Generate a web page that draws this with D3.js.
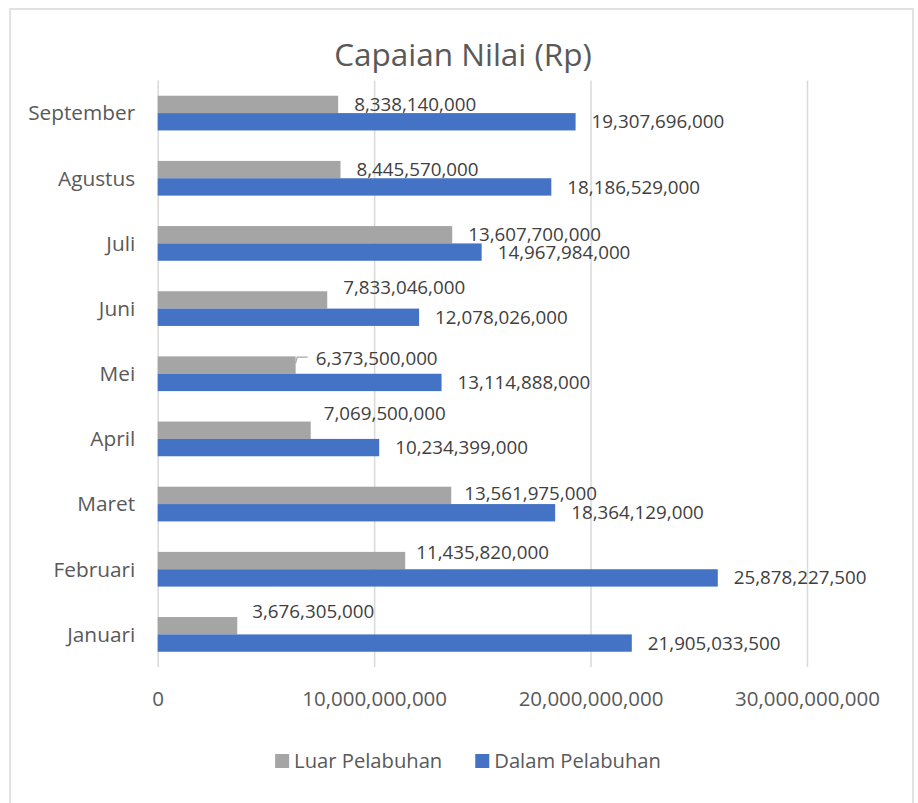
<!DOCTYPE html>
<html>
<head>
<meta charset="utf-8">
<script src="https://cdn.jsdelivr.net/npm/d3@7"></script>
<style>
    body { margin: 0; background: #fff; }
    svg text { font-family: "Open Sans", "Noto Sans", sans-serif; }
</style>
</head>
<body>
<div id="container"></div>
<script>
    // data
    const months = ['Januari', 'Februari', 'Maret', 'April', 'Mei', 'Juni', 'Juli', 'Agustus', 'September'];
    const luarPelabuhan = [3676305000, 11435820000, 13561975000, 7069500000, 6373500000, 7833046000, 13607700000, 8445570000, 8338140000];
    const dalamPelabuhan = [21905033500, 25878227500, 18364129000, 10234399000, 13114888000, 12078026000, 14967984000, 18186529000, 19307696000];
    const seriesNames = ['Luar Pelabuhan', 'Dalam Pelabuhan'];
    const xTicks = [0, 10000000000, 20000000000, 30000000000];

    const COLORS = ['#a5a5a5', '#4472c4'],
        TEXT = '#595959',
        GRID = '#d9d9d9';

    // label nudges for the grey labels (excel moved these to avoid overlaps)
    const luarNudge = {
        Januari: {dx: 15, dy: -14}, Februari: {dx: 11, dy: -8}, Maret: {dx: 13, dy: -2},
        April: {dx: 13, dy: -17}, Mei: {dx: 20, dy: -7, leader: true}, Juni: {dx: 16, dy: -13},
        Juli: {dx: 16, dy: 0}, Agustus: {dx: 16, dy: 0}, September: {dx: 16, dy: 0}
    };

    const W = 918, H = 803,
        plot = {left: 157.7, right: 807, top: 80.5, bottom: 667};

    const svg = d3.select('#container').append('svg')
        .attr('width', W)
        .attr('height', H);

    svg.append('rect')
        .attr('x', 10).attr('y', 9)
        .attr('width', 903).attr('height', 810)
        .attr('fill', '#fff')
        .attr('stroke', GRID)
        .attr('stroke-width', 1.5);

    svg.append('text')
        .attr('x', 463).attr('y', 66)
        .attr('text-anchor', 'middle')
        .attr('fill', TEXT)
        .attr('font-size', 31.5)
        .text('Capaian Nilai (Rp)');

    const x = d3.scaleLinear()
        .domain([0, 30000000000])
        .range([plot.left, plot.right]);

    const y = d3.scaleBand()
        .domain(months.slice().reverse())
        .range([plot.top, plot.bottom])
        .paddingInner(0.4675)
        .paddingOuter(0.234);

    const sub = d3.scaleBand()
        .domain(seriesNames)
        .range([0, y.bandwidth()]);

    const fmt = d3.format(',');

    // gridlines
    const grid = svg.append('g')
        .attr('transform', `translate(0,${plot.bottom})`)
        .call(d3.axisBottom(x).tickValues(xTicks).tickSize(-(plot.bottom - plot.top)).tickFormat(''));
    grid.select('.domain').remove();
    grid.selectAll('line').attr('stroke', GRID).attr('stroke-width', 1.5);

    // x tick labels
    const xAxis = svg.append('g')
        .attr('transform', `translate(0,${plot.bottom})`)
        .call(d3.axisBottom(x).tickValues(xTicks).tickSize(0).tickFormat(fmt));
    xAxis.select('.domain').remove();
    xAxis.selectAll('text')
        .attr('y', 39).attr('dy', null)
        .attr('fill', TEXT)
        .attr('font-size', 20.5)
        .attr('font-family', null);

    // category labels
    const yAxis = svg.append('g')
        .attr('transform', `translate(${plot.left},0)`)
        .call(d3.axisLeft(y).tickSize(0));
    yAxis.select('.domain').remove();
    yAxis.selectAll('text')
        .attr('x', -22.5).attr('dy', '0.35em')
        .attr('fill', TEXT)
        .attr('font-size', 20.8)
        .attr('font-family', null);

    const rows = months.map((m, i) => ({month: m, luar: luarPelabuhan[i], dalam: dalamPelabuhan[i]}));

    const groups = svg.append('g').selectAll('g')
        .data(rows)
        .enter()
        .append('g')
        .attr('transform', d => `translate(0,${y(d.month)})`);

    groups.append('rect')
        .attr('x', x(0))
        .attr('y', sub('Luar Pelabuhan'))
        .attr('width', d => x(d.luar) - x(0))
        .attr('height', sub.bandwidth())
        .attr('fill', COLORS[0]);

    groups.append('rect')
        .attr('x', x(0))
        .attr('y', sub('Dalam Pelabuhan'))
        .attr('width', d => x(d.dalam) - x(0))
        .attr('height', sub.bandwidth())
        .attr('fill', COLORS[1]);

    // data labels
    groups.append('text')
        .attr('x', d => x(d.luar) + luarNudge[d.month].dx)
        .attr('y', d => sub('Luar Pelabuhan') + sub.bandwidth() / 2 + luarNudge[d.month].dy)
        .attr('dy', '0.35em')
        .attr('fill', '#404040')
        .attr('font-size', 18.8)
        .text(d => fmt(d.luar));

    groups.append('text')
        .attr('x', d => x(d.dalam) + 16)
        .attr('y', d => sub('Dalam Pelabuhan') + sub.bandwidth() / 2)
        .attr('dy', '0.35em')
        .attr('fill', '#404040')
        .attr('font-size', 18.8)
        .text(d => fmt(d.dalam));

    // leader line where the label was pulled away from its bar
    groups.filter(d => luarNudge[d.month].leader)
        .append('path')
        .attr('d', d => {
            let x0 = x(d.luar),
                yc = sub('Luar Pelabuhan') + sub.bandwidth() / 2,
                yl = yc + luarNudge[d.month].dy;
            return `M${x0},${yc - 2} L${x0 + 1.5},${yl - 1} L${x0 + 12},${yl - 1}`;
        })
        .attr('fill', 'none')
        .attr('stroke', '#a6a6a6')
        .attr('stroke-width', 1.2);

    // legend
    const legend = svg.append('g');
    let lx = 0;
    seriesNames.forEach((name, i) => {
        let item = legend.append('g').attr('transform', `translate(${lx},0)`);
        item.append('rect')
            .attr('x', 0).attr('y', -14)
            .attr('width', 14).attr('height', 14)
            .attr('fill', COLORS[i]);
        let t = item.append('text')
            .attr('x', 19).attr('y', 0)
            .attr('fill', TEXT)
            .attr('font-size', 20.2)
            .text(name);
        lx += 19 + t.node().getComputedTextLength() + 33;
    });
    let legendWidth = lx - 33;
    legend.attr('transform', `translate(${468 - legendWidth / 2},768)`);
</script>
</body>
</html>
